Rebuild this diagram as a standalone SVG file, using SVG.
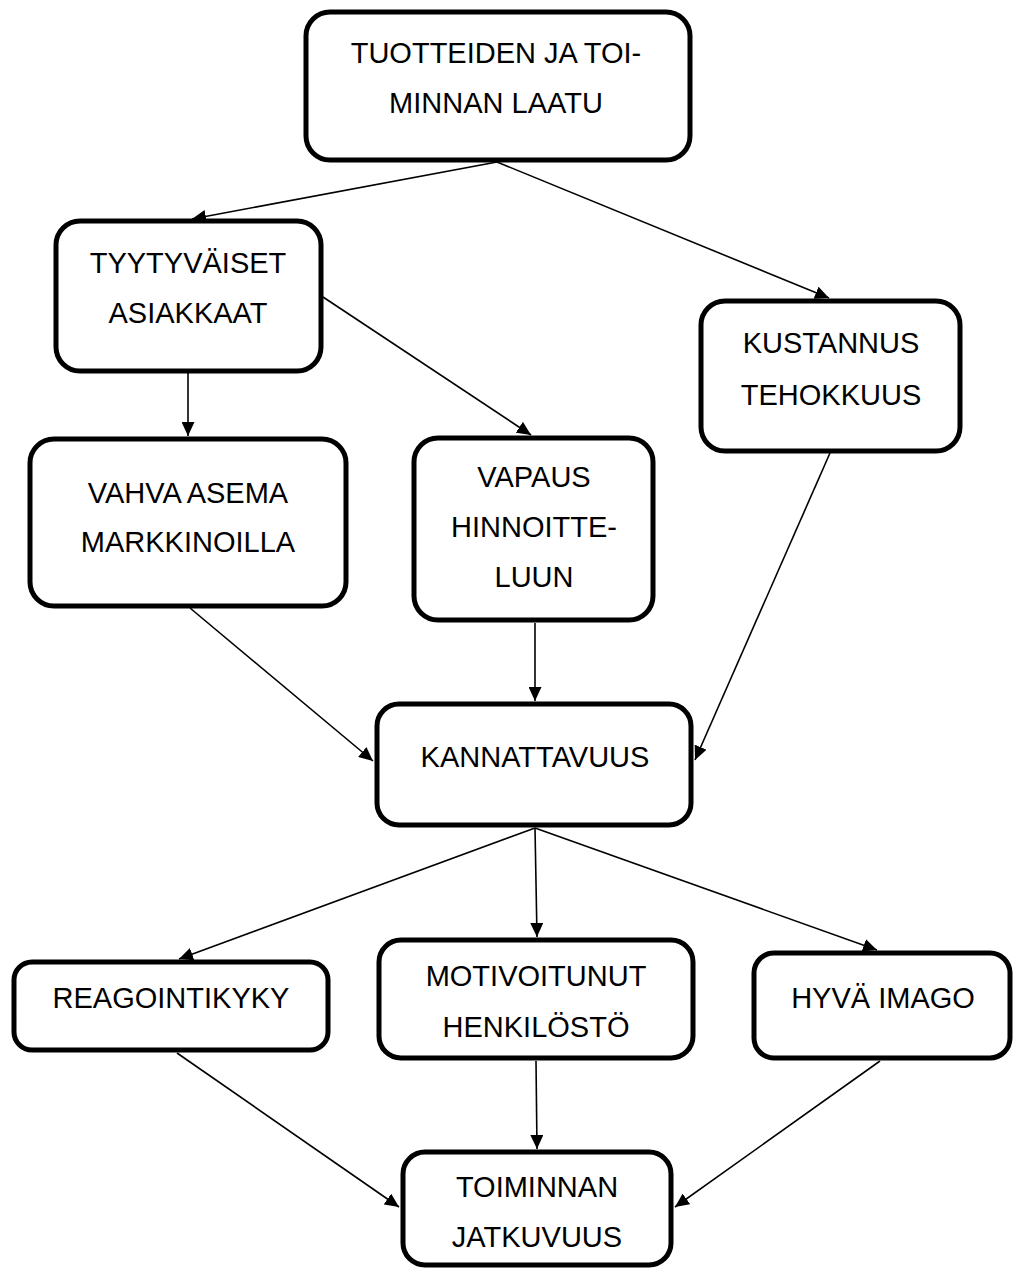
<svg xmlns="http://www.w3.org/2000/svg" width="1014" height="1270" viewBox="0 0 1014 1270">
  <defs>
    <marker id="arrow" viewBox="0 0 14 13" refX="14" refY="6.5" markerWidth="14" markerHeight="13" markerUnits="userSpaceOnUse" orient="auto">
      <path d="M0,0 L14,6.5 L0,13 z" fill="#000"/>
    </marker>
    <style>
      .box { fill: #fff; stroke: #000; stroke-width: 5; }
      .lbl { font-family: "Liberation Sans", Arial, sans-serif; font-size: 29px; fill: #000; text-anchor: middle; }
      .edge { fill: none; stroke: #000; stroke-width: 1.6; marker-end: url(#arrow); }
    </style>
  </defs>
  <rect width="1014" height="1270" fill="#fff"/>

  <!-- connectors -->
  <g id="edges">
    <line class="edge" x1="497" y1="162" x2="192" y2="219"/>
    <line class="edge" x1="497" y1="162" x2="829" y2="298"/>
    <line class="edge" x1="188" y1="373" x2="188" y2="436"/>
    <line class="edge" x1="323" y1="297" x2="531" y2="435"/>
    <line class="edge" x1="190" y1="608" x2="373" y2="761"/>
    <line class="edge" x1="535" y1="623" x2="535" y2="701"/>
    <line class="edge" x1="830" y1="453" x2="695" y2="760"/>
    <line class="edge" x1="535" y1="828" x2="179" y2="959"/>
    <line class="edge" x1="535" y1="828" x2="537" y2="937"/>
    <line class="edge" x1="535" y1="828" x2="877" y2="950"/>
    <line class="edge" x1="177" y1="1053" x2="399" y2="1207"/>
    <line class="edge" x1="536" y1="1061" x2="537" y2="1149"/>
    <line class="edge" x1="880" y1="1061" x2="675" y2="1207"/>
  </g>

  <!-- nodes -->
  <g id="n-laatu">
    <rect class="box" x="306" y="12" width="384" height="148" rx="24"/>
    <text class="lbl" x="496" y="63">TUOTTEIDEN JA TOI-</text>
    <text class="lbl" x="496" y="113">MINNAN LAATU</text>
  </g>
  <g id="n-asiakkaat">
    <rect class="box" x="56" y="221" width="265" height="150" rx="24"/>
    <text class="lbl" x="188" y="273">TYYTYVÄISET</text>
    <text class="lbl" x="188" y="323">ASIAKKAAT</text>
  </g>
  <g id="n-asema">
    <rect class="box" x="30" y="439" width="316" height="167" rx="24"/>
    <text class="lbl" x="188" y="503">VAHVA ASEMA</text>
    <text class="lbl" x="188" y="552">MARKKINOILLA</text>
  </g>
  <g id="n-vapaus">
    <rect class="box" x="414" y="438" width="239" height="182" rx="24"/>
    <text class="lbl" x="534" y="487">VAPAUS</text>
    <text class="lbl" x="534" y="537">HINNOITTE-</text>
    <text class="lbl" x="534" y="587">LUUN</text>
  </g>
  <g id="n-kustannus">
    <rect class="box" x="701" y="301" width="259" height="150" rx="24"/>
    <text class="lbl" x="831" y="353">KUSTANNUS</text>
    <text class="lbl" x="831" y="405">TEHOKKUUS</text>
  </g>
  <g id="n-kannattavuus">
    <rect class="box" x="377" y="704" width="314" height="121" rx="22"/>
    <text class="lbl" x="535" y="767">KANNATTAVUUS</text>
  </g>
  <g id="n-reagointi">
    <rect class="box" x="14" y="962" width="314" height="88" rx="18"/>
    <text class="lbl" x="171" y="1008">REAGOINTIKYKY</text>
  </g>
  <g id="n-henkilosto">
    <rect class="box" x="379" y="940" width="314" height="118" rx="22"/>
    <text class="lbl" x="536" y="986">MOTIVOITUNUT</text>
    <text class="lbl" x="536" y="1037">HENKILÖSTÖ</text>
  </g>
  <g id="n-imago">
    <rect class="box" x="754" y="953" width="256" height="105" rx="20"/>
    <text class="lbl" x="883" y="1008">HYVÄ IMAGO</text>
  </g>
  <g id="n-jatkuvuus">
    <rect class="box" x="403" y="1152" width="268" height="113" rx="22"/>
    <text class="lbl" x="537" y="1197">TOIMINNAN</text>
    <text class="lbl" x="537" y="1247">JATKUVUUS</text>
  </g>
</svg>
